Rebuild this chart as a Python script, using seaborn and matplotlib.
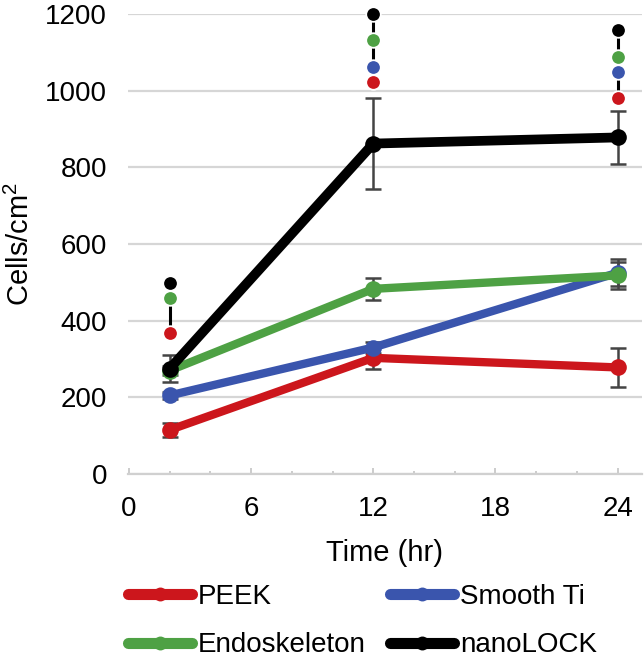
import matplotlib
matplotlib.use("Agg")
import matplotlib.pyplot as plt
from matplotlib.lines import Line2D
from matplotlib.ticker import MultipleLocator
import seaborn as sns
import pandas as pd

# ---- data ----
times = [2, 12, 24]
materials = ["PEEK", "Smooth Ti", "Endoskeleton", "nanoLOCK"]
peek = [115, 303, 278]
smooth_ti = [205, 330, 525]
endoskeleton = [270, 483, 518]
nanolock = [275, 862, 878]
peek_err = [18, 28, 50]
smooth_ti_err = [10, 15, 35]
endoskeleton_err = [12, 29, 35]
nanolock_err = [36, 118, 68]
colors = ["#CC161C", "#3A55AD", "#4EA144", "#000000"]

# significance markers (per time point: material, y position)
sig_t2 = [("nanoLOCK", 498), ("Endoskeleton", 459), ("PEEK", 367)]
sig_t12 = [("nanoLOCK", 1200), ("Endoskeleton", 1131), ("Smooth Ti", 1062), ("PEEK", 1022)]
sig_t24 = [("nanoLOCK", 1159), ("Endoskeleton", 1089), ("Smooth Ti", 1049), ("PEEK", 980)]

values = [peek, smooth_ti, endoskeleton, nanolock]
errors = [peek_err, smooth_ti_err, endoskeleton_err, nanolock_err]
rows = []
for m, vals, errs in zip(materials, values, errors):
    for t, v, e in zip(times, vals, errs):
        rows.append({"Time": t, "Cells": v, "Err": e, "Material": m})
df = pd.DataFrame(rows)
palette = dict(zip(materials, colors))

sns.set_theme(style="white")
plt.rcParams["font.family"] = ["Liberation Sans", "DejaVu Sans"]
plt.rcParams["mathtext.fontset"] = "custom"
plt.rcParams["mathtext.rm"] = "Liberation Sans"
plt.rcParams["mathtext.it"] = "Liberation Sans"
plt.rcParams["mathtext.default"] = "regular"
plt.rcParams["text.color"] = "black"
plt.rcParams["axes.labelcolor"] = "black"
plt.rcParams["xtick.labelcolor"] = "black"
plt.rcParams["ytick.labelcolor"] = "black"

fig = plt.figure(figsize=(6.44, 6.59), dpi=100)
ax = fig.add_axes([128 / 644, 185 / 659, 514 / 644, 460 / 659])

# error bars
for m in materials:
    sub = df[df.Material == m]
    ax.errorbar(sub.Time, sub.Cells, yerr=sub.Err, fmt="none", ecolor="#444444",
                elinewidth=1.8, capsize=5.5, capthick=1.8, zorder=2)

# lines
for i, m in enumerate(materials):
    sub = df[df.Material == m]
    lw = 7 if m == "nanoLOCK" else 6
    sns.lineplot(data=sub, x="Time", y="Cells", color=palette[m], marker="o",
                 markersize=12, markeredgewidth=0, linewidth=lw, legend=False,
                 ax=ax, zorder=3 + i)

# significance markers
for t, sig in zip(times, [sig_t2, sig_t12, sig_t24]):
    ys = [y for _, y in sig]
    ax.plot([t, t], [min(ys), max(ys)], color="black", lw=2.2, zorder=8, clip_on=False)
    for m, y in sig:
        ax.plot([t], [y], marker="o", color=palette[m], markersize=10.5,
                markeredgecolor="white", markeredgewidth=1.3, zorder=9, clip_on=False)

ax.set_xlim(-0.05, 25.2)
ax.set_ylim(0, 1200)
ax.set_xticks([0, 6, 12, 18, 24])
ax.xaxis.set_minor_locator(MultipleLocator(2))
ax.set_yticks(range(0, 1201, 200))
ax.yaxis.grid(True, color="#d6d6d6", lw=1.6)
ax.set_axisbelow(True)
for s in ["top", "right", "left"]:
    ax.spines[s].set_visible(False)
ax.spines["bottom"].set_color("#d0d0d0")
ax.spines["bottom"].set_linewidth(1.6)
ax.tick_params(axis="x", which="major", direction="in", length=4, width=1.3,
               color="#c8c8c8", pad=16, labelsize=20, bottom=True)
ax.tick_params(axis="x", which="minor", direction="in", length=2, width=1.3,
               color="#c8c8c8", bottom=True)
ax.tick_params(axis="y", length=0, pad=15, labelsize=20)
ax.set_xlabel("Time (hr)", fontsize=21, labelpad=12)
ax.set_ylabel("Cells/cm$^2$", fontsize=21)
ax.yaxis.set_label_coords(-0.18, 0.5)

# legend: row 1 PEEK / Smooth Ti, row 2 Endoskeleton / nanoLOCK
order = ["PEEK", "Endoskeleton", "Smooth Ti", "nanoLOCK"]
handles = [Line2D([0], [0], color=palette[m], lw=8, marker="o", markersize=10,
                  markeredgewidth=0, solid_capstyle="round") for m in order]
fig.legend(handles, order, loc="upper left", bbox_to_anchor=(128 / 644, 1 - 584 / 659),
           ncol=2, frameon=False, fontsize=20, handlelength=2.3, handletextpad=0.2,
           columnspacing=0.9, labelspacing=0.8, borderpad=0, borderaxespad=0)

fig.savefig("out.png", dpi=100)
